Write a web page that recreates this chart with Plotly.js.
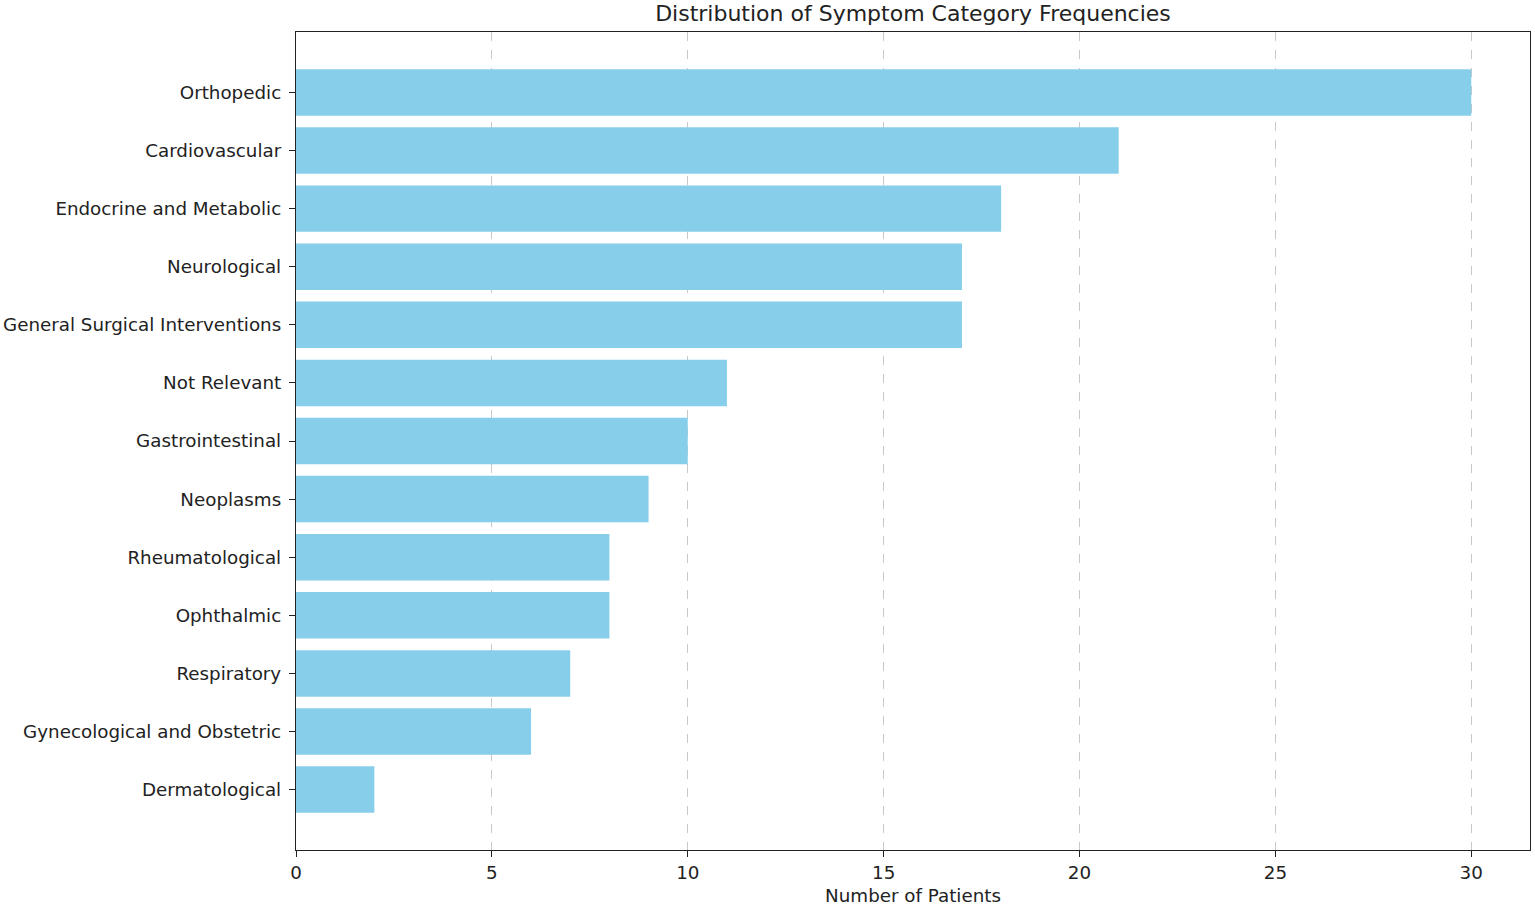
<!DOCTYPE html>
<html>
<head>
<meta charset="utf-8">
<script src="https://cdn.plot.ly/plotly-3.0.1.min.js"></script>
<style>
html, body { margin: 0; padding: 0; background: #fff; }
#chart { width: 1535px; height: 906px; }
</style>
</head>
<body>
<div id="chart"></div>
<script>
const categories = [
  "Orthopedic",
  "Cardiovascular",
  "Endocrine and Metabolic",
  "Neurological",
  "General Surgical Interventions",
  "Not Relevant",
  "Gastrointestinal",
  "Neoplasms",
  "Rheumatological",
  "Ophthalmic",
  "Respiratory",
  "Gynecological and Obstetric",
  "Dermatological"
];
const patientCounts = [30, 21, 18, 17, 17, 11, 10, 9, 8, 8, 7, 6, 2];
const xTickValues = [0, 5, 10, 15, 20, 25, 30];

const font = "DejaVu Sans, sans-serif";
const labelSize = 18.3;

const trace = {
  type: "bar",
  orientation: "h",
  y: categories,
  x: patientCounts,
  width: 0.8,
  marker: { color: "#87CEEB", line: { width: 0 } },
  hoverinfo: "x+y"
};

const layout = {
  width: 1535,
  height: 906,
  margin: { l: 296, r: 5, t: 32, b: 56 },
  paper_bgcolor: "#ffffff",
  plot_bgcolor: "#ffffff",
  font: { family: font, size: labelSize, color: "#222" },
  showlegend: false,
  title: {
    text: "Distribution of Symptom Category Frequencies",
    font: { family: font, size: 22, color: "#222" },
    x: (296 + 1530) / 2 / 1535,
    xanchor: "center",
    xref: "container",
    yref: "container",
    y: 1 - 13 / 906,
    yanchor: "middle"
  },
  xaxis: {
    range: [0, 31.5],
    tickmode: "array",
    tickvals: xTickValues,
    ticktext: xTickValues.map(String),
    ticks: "outside",
    ticklen: 6,
    tickwidth: 1.3,
    tickcolor: "#222",
    showline: true,
    linecolor: "#222",
    linewidth: 1.3,
    mirror: true,
    showgrid: true,
    gridcolor: "#c8c8c8",
    griddash: "dash",
    gridwidth: 1,
    zeroline: false,
    layer: "above traces",
    tickfont: { family: font, size: labelSize, color: "#222" },
    title: {
      text: "Number of Patients",
      font: { family: font, size: labelSize, color: "#222" },
      standoff: 7
    }
  },
  yaxis: {
    type: "category",
    range: [13.04, -1.04],
    ticks: "outside",
    ticklen: 6,
    tickwidth: 1.3,
    tickcolor: "#222",
    ticklabelstandoff: 4,
    showline: true,
    linecolor: "#222",
    linewidth: 1.3,
    mirror: true,
    showgrid: false,
    zeroline: false,
    tickfont: { family: font, size: labelSize, color: "#222" }
  }
};

Plotly.newPlot("chart", [trace], layout, { displayModeBar: false, responsive: false });
</script>
</body>
</html>
